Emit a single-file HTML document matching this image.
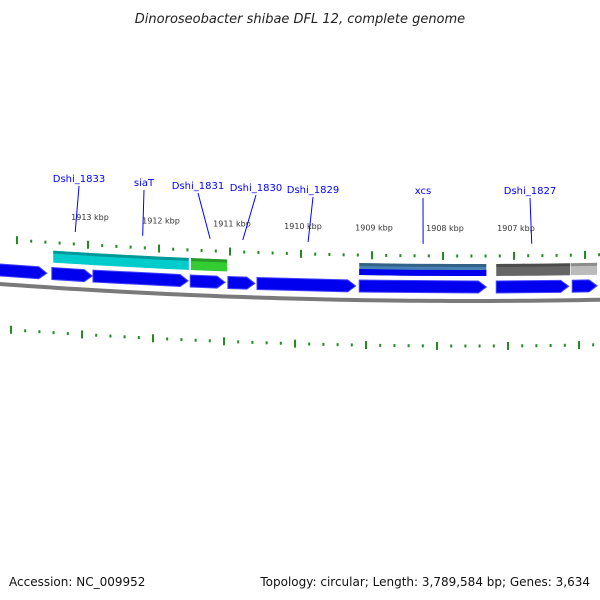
<!DOCTYPE html>
<html><head><meta charset="utf-8"><style>
body{margin:0;background:#fff;}
svg{display:block;font-family:"DejaVu Sans","Liberation Sans",sans-serif;}
</style></head><body>
<svg id="map" width="600" height="600" viewBox="0 0 600 600" xmlns="http://www.w3.org/2000/svg">
<text x="300" y="23" text-anchor="middle" font-size="13" font-style="italic" fill="#222">Dinoroseobacter shibae DFL 12, complete genome</text>
<text x="9" y="586" font-size="12" fill="#111">Accession: NC_009952</text>
<text x="590" y="586" text-anchor="end" font-size="12" fill="#111">Topology: circular; Length: 3,789,584 bp; Genes: 3,634</text>
<g id="layer"></g>
</svg>
<script>
// data (kbp positions)
const geneStarts = [1914.31, 1913.51, 1912.93, 1911.56, 1911.03, 1910.62, 1909.18, 1907.25, 1906.18];
const geneEnds   = [1913.58, 1912.94, 1911.59, 1911.07, 1910.65, 1909.23, 1907.39, 1906.23, 1905.83];
const featStarts = [1913.49, 1912.93, 1911.55, 1909.18, 1907.25, 1906.20];
const featEnds   = [1912.93, 1911.58, 1911.04, 1907.39, 1906.21, 1905.83];
const featColors = ["#00cccc", "#00cccc", "#33cc33", "#4682b4", "#666666", "#bbbbbb"];
const labelNames = ["Dshi_1833", "siaT", "Dshi_1831", "Dshi_1830", "Dshi_1829", "xcs", "Dshi_1827"];
const labelPos   = [1913.18, 1912.23, 1911.28, 1910.82, 1909.90, 1908.28, 1906.75];
const majorTicks = [1914, 1913, 1912, 1911, 1910, 1909, 1908, 1907, 1906];
const tickLabels = ["","1913 kbp","1912 kbp","1911 kbp","1910 kbp","1909 kbp","1908 kbp","1907 kbp",""];

const NS="http://www.w3.org/2000/svg";
const L=document.getElementById('layer');
const X=k=>88+(1913-k)*71;          // kbp -> x
const R=6500, CX=470, BASE=301;
const Y=(x,off)=>BASE-(x-CX)*(x-CX)/(2*R)+off;
function mk(tag,at){const e=document.createElementNS(NS,tag);for(const k in at)e.setAttribute(k,at[k]);L.appendChild(e);return e;}
function band(x1,x2,o1,o2){let d='';const n=8;for(let i=0;i<=n;i++){const x=x1+(x2-x1)*i/n;d+=(i?'L':'M')+x+','+Y(x,o1);}for(let i=n;i>=0;i--){const x=x1+(x2-x1)*i/n;d+='L'+x+','+Y(x,o2);}return d+'Z';}

// backbone
let bd='';for(let x=-10;x<=610;x+=10)bd+=(x>-10?'L':'M')+x+','+Y(x,0);
const bb=mk('path',{d:bd,stroke:'#7a7a7a','stroke-width':4,fill:'none'});



// tick rows
for(let i=0;i<majorTicks.length;i++){
  for(let m=0;m<5;m++){
    const x=X(majorTicks[i]-m*0.2);
    const major=m===0;
    const t=mk('rect',{x:x-1,y:Y(x,-45)-(major?4:1.5),width:2,height:major?8:3,fill:'#228b22'});
    
    
    const xb=x-6;
    const b=mk('rect',{x:xb-1,y:Y(xb,45)-(major?4:1.5),width:2,height:major?8:3,fill:'#228b22'});
    
    
  }
  const x=X(majorTicks[i]);
  const tl=mk('text',{x:x+2,y:Y(x,-70),'text-anchor':'middle','font-size':8,fill:'#333'});
  tl.textContent=tickLabels[i];
  
  
}

// genes (arrows)
for(let i=0;i<geneStarts.length;i++){
  const x1=X(geneStarts[i]),x2=X(geneEnds[i]);
  const tip=Math.min(8,(x2-x1)/3);
  let d='M'+x1+','+Y(x1,-20)+'L'+(x2-tip)+','+Y(x2-tip,-20)+'L'+x2+','+Y(x2,-14)+'L'+(x2-tip)+','+Y(x2-tip,-8)+'L'+x1+','+Y(x1,-8)+'Z';
  const g=mk('path',{d:d,fill:'#0000ee',stroke:'#4444ff','stroke-width':1});
  
  
}

// features
for(let i=0;i<featStarts.length;i++){
  const x1=X(featStarts[i]),x2=X(featEnds[i]);
  const f=mk('path',{d:band(x1,x2,-37,-25),fill:featColors[i]});
  
  
  if(featColors[i]==='#4682b4'){
    const h=mk('path',{d:band(x1,x2,-31,-25),fill:'#0000ee'});
    
    
  }
  const top=mk('path',{d:band(x1,x2,-37,-34),fill:'#000',opacity:0.25});
  
  
}

// gene labels
const labelY=[181,185,188,190,192,193,193];
for(let i=0;i<labelNames.length;i++){
  const x=X(labelPos[i]);
  const lx=[79,144,198,256,313,423,530][i];
  const ln=mk('line',{x1:lx,y1:labelY[i]+5,x2:x,y2:Y(x,-57),stroke:'#0000ff','stroke-width':1});
  
  
  const t=mk('text',{x:lx,y:labelY[i]+1,'text-anchor':'middle','font-size':10,fill:'#0000ff'});
  t.textContent=labelNames[i];
  
  
}
</script>
</body></html>
